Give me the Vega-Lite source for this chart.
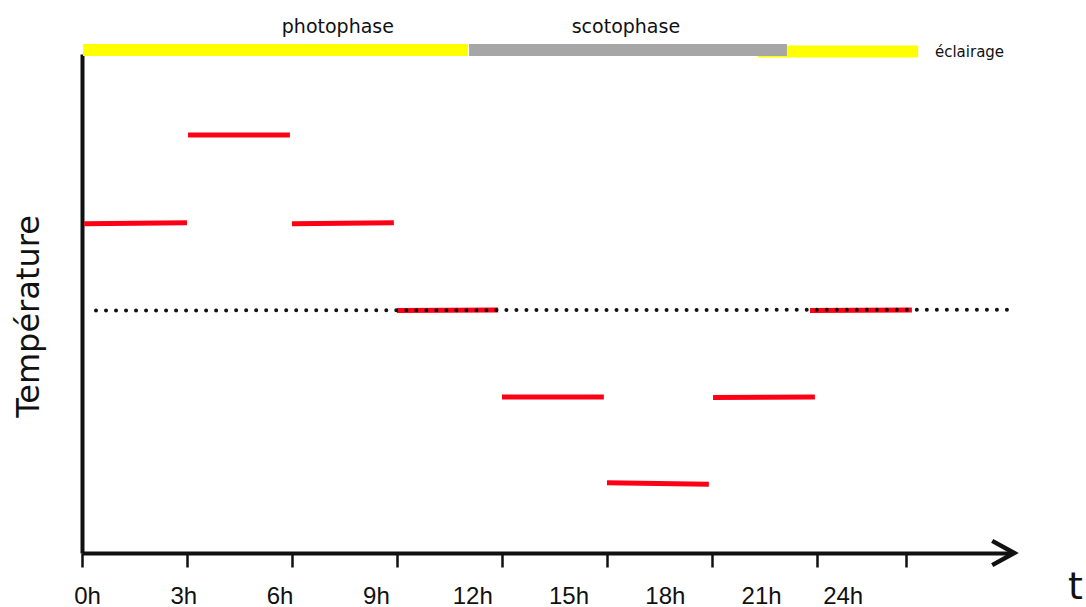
{
  "$schema": "https://vega.github.io/schema/vega-lite/v6.json",
  "width": 930,
  "height": 499,
  "autosize": {"type": "none"},
  "padding": {"left": 82, "top": 54, "right": 74, "bottom": 54},
  "background": "white",
  "config": {"view": {"stroke": null}},
  "datasets": {
    "segments": [
      {"x": 0.06, "x2": 3.0, "y": 0.997, "y2": 1.008},
      {"x": 3.03, "x2": 5.94, "y": 2.017, "y2": 2.017},
      {"x": 6.0, "x2": 8.91, "y": 0.997, "y2": 1.008},
      {"x": 9.0, "x2": 11.89, "y": 0.0, "y2": 0.006},
      {"x": 12.0, "x2": 14.91, "y": -0.994, "y2": -0.994},
      {"x": 15.0, "x2": 17.91, "y": -1.979, "y2": -1.998},
      {"x": 18.03, "x2": 20.94, "y": -1.0, "y2": -0.994},
      {"x": 20.8, "x2": 23.71, "y": 0.0, "y2": 0.006}
    ],
    "reference": [
      {"x": 0.4, "x2": 26.57, "y": 0.0, "y2": 0.01}
    ],
    "lighting": [
      {"x": 0.03, "x2": 11.03, "y": 2.994, "y2": 2.994, "phase": "photophase"},
      {"x": 19.31, "x2": 23.89, "y": 2.977, "y2": 2.977, "phase": "photophase"},
      {"x": 11.06, "x2": 20.14, "y": 2.994, "y2": 2.994, "phase": "scotophase"}
    ],
    "phaseLabels": [
      {"x": 7.31, "y": 3.26, "label": "photophase"},
      {"x": 15.54, "y": 3.26, "label": "scotophase"}
    ],
    "legendLabel": [
      {"x": 24.37, "y": 2.97, "label": "éclairage"}
    ],
    "arrowHead": [
      {"x": 26.571, "y": -2.787}
    ]
  },
  "encoding": {
    "x": {
      "field": "x",
      "type": "quantitative",
      "scale": {"domain": [0, 26.571], "nice": false, "zero": false},
      "axis": {
        "orient": "bottom",
        "values": [0, 3, 6, 9, 12, 15, 18, 21, 23.54],
        "labelExpr": "datum.value > 23 ? '24h' : datum.value + 'h'",
        "grid": false,
        "domainColor": "#111111",
        "domainWidth": 4,
        "tickColor": "#111111",
        "tickWidth": 2.5,
        "tickSize": 14,
        "labelFont": "Liberation Sans",
        "labelFontSize": 24,
        "labelColor": "#111111",
        "labelPadding": 36,
        "labelBaseline": "alphabetic",
        "labelFlush": false,
        "labelOverlap": false,
        "labelOffset": {"expr": "5 - 2.9 * datum.value"},
        "title": "t",
        "titleFont": "DejaVu Sans",
        "titleFontSize": 38,
        "titleFontWeight": "normal",
        "titleColor": "#111111",
        "titleX": 993,
        "titleY": 45,
        "titleAlign": "center",
        "titleBaseline": "alphabetic",
        "encode": {
          "ticks": {
            "y": {"value": -12},
            "y2": {"value": 14},
            "opacity": {"value": {"expr": "datum.value == 0 ? 0 : 1"}}
          }
        }
      }
    },
    "y": {
      "field": "y",
      "type": "quantitative",
      "scale": {"domain": [-2.787, 2.948], "nice": false, "zero": false},
      "axis": {
        "orient": "left",
        "domain": true,
        "domainColor": "#111111",
        "domainWidth": 4,
        "ticks": false,
        "labels": false,
        "grid": false,
        "title": "Température",
        "titleFont": "DejaVu Sans",
        "titleFontSize": 32,
        "titleFontWeight": "normal",
        "titleColor": "#111111",
        "titleAngle": -90,
        "titleX": -54,
        "titleY": 262,
        "titleAlign": "center",
        "titleBaseline": "middle"
      }
    }
  },
  "layer": [
    {
      "data": {"name": "lighting"},
      "mark": {"type": "rule", "strokeWidth": 12, "strokeCap": "butt"},
      "encoding": {
        "x2": {"field": "x2"},
        "y2": {"field": "y2"},
        "color": {
          "field": "phase",
          "type": "nominal",
          "scale": {"domain": ["photophase", "scotophase"], "range": ["#ffff00", "#a6a6a6"]},
          "legend": null
        }
      }
    },
    {
      "data": {"name": "segments"},
      "mark": {"type": "rule", "strokeWidth": 5, "strokeCap": "butt", "color": "#fe0016"},
      "encoding": {
        "x2": {"field": "x2"},
        "y2": {"field": "y2"}
      }
    },
    {
      "data": {"name": "reference"},
      "mark": {"type": "rule", "strokeWidth": 4, "strokeCap": "round", "strokeDash": [0.01, 10], "color": "#111111"},
      "encoding": {
        "x2": {"field": "x2"},
        "y2": {"field": "y2"}
      }
    },
    {
      "data": {"name": "phaseLabels"},
      "mark": {"type": "text", "font": "DejaVu Sans", "fontSize": 19, "color": "#111111", "baseline": "middle", "align": "center"},
      "encoding": {
        "text": {"field": "label"}
      }
    },
    {
      "data": {"name": "legendLabel"},
      "mark": {"type": "text", "font": "DejaVu Sans", "fontSize": 15, "color": "#111111", "baseline": "middle", "align": "left"},
      "encoding": {
        "text": {"field": "label"}
      }
    },
    {
      "data": {"name": "arrowHead"},
      "mark": {"type": "point", "shape": "M-0.9,-0.55L0.1,0L-0.9,0.55", "size": 1936, "filled": false, "stroke": "#111111", "strokeWidth": 4.5, "opacity": 1, "strokeJoin": "miter"}
    }
  ]
}
